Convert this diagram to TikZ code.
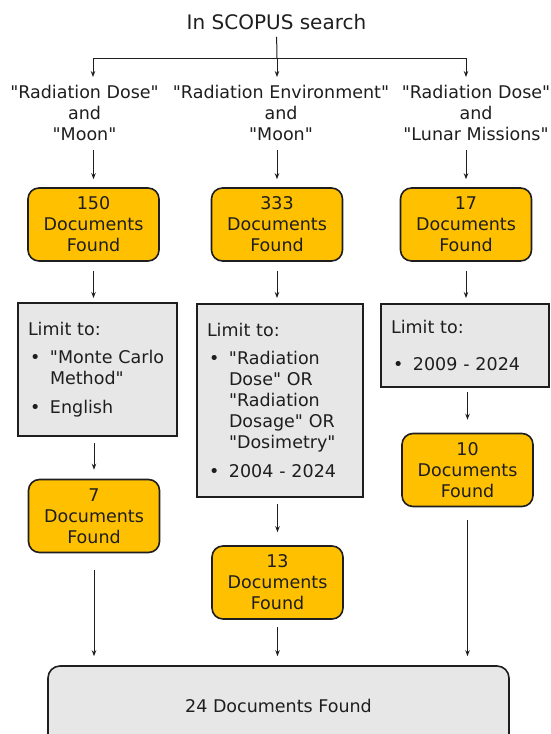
\documentclass[tikz,border=0pt]{standalone}
\usepackage{fontspec}
\setmainfont{DejaVu Sans}[Ligatures=TeXOff]
\usetikzlibrary{arrows.meta,calc}
\definecolor{gold}{HTML}{FFC000}
\definecolor{lgray}{HTML}{E7E7E7}
\definecolor{ink}{HTML}{1E1E1E}
\newcommand{\bul}{\hspace*{2pt}\makebox[20pt][l]{•}}
\newcommand{\ind}{\hspace*{22pt}}
\begin{document}
\begin{tikzpicture}[x=1pt,y=-1pt,
  txt/.style={font=\fontsize{17.5}{21}\selectfont, text=ink, inner sep=0pt},
  docbox/.style={txt, draw=ink, line width=1.6pt, fill=gold, rounded corners=11pt,
    minimum width=131pt, minimum height=73pt, align=center},
  limbox/.style={txt, draw=ink, line width=2pt, fill=lgray, align=left, inner xsep=10pt},
  finbox/.style={txt, draw=ink, line width=1.6pt, fill=lgray, rounded corners=12pt,
    minimum width=461pt, minimum height=80pt},
  conn/.style={draw=ink, line width=1pt},
  arr/.style={conn, -{Stealth[length=6pt,width=4.5pt]}},
]
\useasboundingbox (0,0) rectangle (550,734);
\clip (0,0) rectangle (550,734);

% title
\node[txt, font=\fontsize{20}{24}\selectfont] (top) at (276.5,22) {In SCOPUS search};

% queries
\node[txt, align=center, anchor=north] (q1) at (84.5,85) {"Radiation Dose"\\and\\"Moon"};
\node[txt, align=center, anchor=north] (q2) at (281,85) {"Radiation Environment"\\and\\"Moon"};
\node[txt, align=center, anchor=north] (q3) at (476,85) {"Radiation Dose"\\and\\"Lunar Missions"};

% first results
\node[docbox] (b1) at (93.5,224.5) {150\\Documents\\Found};
\node[docbox] (b2) at (277,224.5) {333\\Documents\\Found};
\node[docbox] (b3) at (466,224.5) {17\\Documents\\Found};

% limits
\node[limbox, text width=139pt, minimum height=133pt] (l1) at (97.5,369.5)
  {Limit to:\\[7pt]
   \bul"Monte Carlo\\
   \ind Method"\\[8pt]
   \bul English};
\node[limbox, text width=146pt, minimum height=193pt] (l2) at (280,400.5)
  {Limit to:\\[7pt]
   \bul"Radiation\\
   \ind Dose" OR\\
   \ind "Radiation\\
   \ind Dosage" OR\\
   \ind "Dosimetry"\\[8pt]
   \bul 2004 - 2024};
\node[limbox, text width=147.5pt, minimum height=83pt] (l3) at (464.75,345.5)
  {Limit to:\\[16pt]
   \bul 2009 - 2024};

% second results
\node[docbox] (b4) at (94,516) {7\\Documents\\Found};
\node[docbox] (b5) at (277.5,582.5) {13\\Documents\\Found};
\node[docbox] (b6) at (467.5,470) {10\\Documents\\Found};

% final
\node[finbox] (fin) at (278.5,706) {24 Documents Found};

% top splitter
\coordinate (split) at (277,58);
\coordinate (h1) at (93,58);
\coordinate (h3) at (466,58);
\draw[conn, shorten <=7pt] (top.south) -- (split);
\draw[conn] (h1) -- (h3);
\draw[arr, shorten >=8pt] (h1) -- (h1 |- q1.north);
\draw[arr, shorten >=8pt] (split) -- (split |- q2.north);
\draw[arr, shorten >=8pt] (h3) -- (h3 |- q3.north);

% queries to results
\draw[arr, shorten <=9pt, shorten >=8pt] (q1.south -| b1.north) -- (b1.north);
\draw[arr, shorten <=9pt, shorten >=8pt] (q2.south -| b2.north) -- (b2.north);
\draw[arr, shorten <=9pt, shorten >=8pt] (q3.south -| b3.north) -- (b3.north);

% results to limits
\draw[arr, shorten <=9pt, shorten >=4pt] (b1.south) -- (b1.south |- l1.north);
\draw[arr, shorten <=9pt, shorten >=5pt] (b2.south) -- (b2.south |- l2.north);
\draw[arr, shorten <=9pt, shorten >=5pt] (b3.south) -- (b3.south |- l3.north);

% limits to results
\draw[arr, shorten <=6pt, shorten >=9pt] (l1.south -| b4.north) -- (b4.north);
\draw[arr, shorten <=6pt, shorten >=13pt] (l2.south -| b5.north) -- (b5.north);
\draw[arr, shorten <=4pt, shorten >=13pt] (l3.south -| b6.north) -- (b6.north);

% results to final
\draw[arr, shorten <=17pt, shorten >=9pt] (b4.south) -- (b4.south |- fin.north);
\draw[arr, shorten <=7pt, shorten >=9pt] (b5.south) -- (b5.south |- fin.north);
\draw[arr, shorten <=13pt, shorten >=9pt] (b6.south) -- (b6.south |- fin.north);
\end{tikzpicture}
\end{document}
